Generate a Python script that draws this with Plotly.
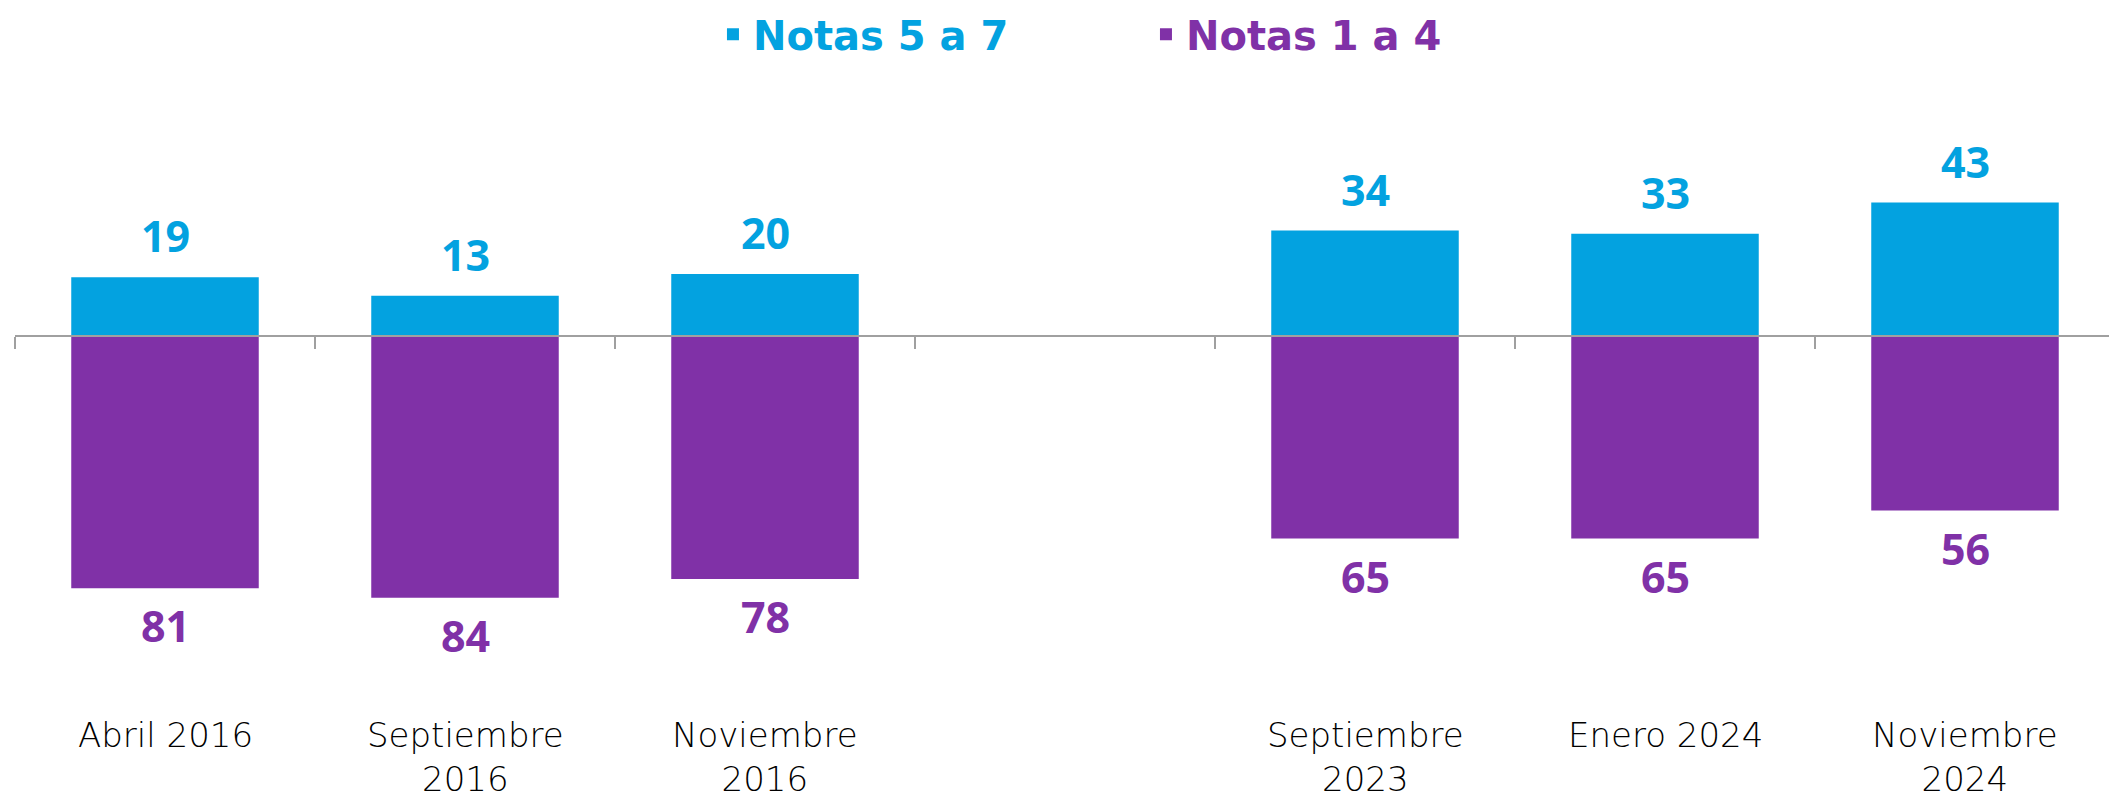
import plotly.graph_objects as go

# ---------------- data ----------------
categorias = ["Abril 2016", "Septiembre 2016", "Noviembre 2016", " ",
              "Septiembre 2023", "Enero 2024", "Noviembre 2024"]
etiquetas = ["Abril 2016", "Septiembre<br>2016", "Noviembre<br>2016", "",
             "Septiembre<br>2023", "Enero 2024", "Noviembre<br>2024"]
notas_5_7 = [19, 13, 20, None, 34, 33, 43]
notas_1_4 = [81, 84, 78, None, 65, 65, 56]

CYAN = "#03A2E0"
PURPLE = "#8031A7"
AXIS_GRAY = "#A0A0A0"

Y_MIN, Y_MAX = -121.7, 88.8
zero_frac = (0 - Y_MIN) / (Y_MAX - Y_MIN)

fig = go.Figure()
fig.add_trace(go.Bar(
    x=categorias, y=notas_5_7,
    name="<span style='color:%s'>Notas 5 a 7</span>" % CYAN,
    marker=dict(color=CYAN, line=dict(width=0)),
    hoverinfo="skip",
))
fig.add_trace(go.Bar(
    x=categorias, y=[-v if v is not None else None for v in notas_1_4],
    name="<span style='color:%s'>Notas 1 a 4</span>" % PURPLE,
    marker=dict(color=PURPLE, line=dict(width=0)),
    hoverinfo="skip",
))

label_font = dict(family="Open Sans", size=43, weight=700)
annotations = []
for c, v in zip(categorias, notas_5_7):
    if v is not None:
        annotations.append(dict(x=c, y=v, xref="x", yref="y", text=str(v), showarrow=False,
                                yanchor="bottom", yshift=10,
                                font=dict(color=CYAN, **label_font)))
for c, v in zip(categorias, notas_1_4):
    if v is not None:
        annotations.append(dict(x=c, y=-v, xref="x", yref="y", text=str(v), showarrow=False,
                                yanchor="top", yshift=-6,
                                font=dict(color=PURPLE, **label_font)))

# category labels under the plot
cat_font = dict(family="DejaVu Sans", size=34, weight=200, color="#000000")
for c, t in zip(categorias, etiquetas):
    if t:
        annotations.append(dict(x=c, y=0, xref="x", yref="paper", text=t, showarrow=False,
                                yanchor="top", yshift=2, font=cat_font))

fig.update_layout(
    width=2117, height=799,
    margin=dict(l=7, r=10, t=52, b=92, autoexpand=False),
    paper_bgcolor="white", plot_bgcolor="white",
    barmode="relative", bargap=0.375,
    showlegend=True,
    legend=dict(orientation="h", xref="container", yref="paper",
                x=0.333, xanchor="left", y=1.089, yanchor="top",
                traceorder="normal", entrywidth=388,
                font=dict(family="DejaVu Sans", size=40, weight=700),
                bgcolor="rgba(0,0,0,0)"),
    xaxis=dict(type="category", categoryorder="array", categoryarray=categorias,
               range=[-0.5, 6.5], anchor="free", position=zero_frac,
               showline=True, linecolor=AXIS_GRAY, linewidth=1.5,
               ticks="outside", tickson="boundaries", ticklen=12,
               tickcolor=AXIS_GRAY, tickwidth=1.5,
               showticklabels=False, showgrid=False, zeroline=False),
    yaxis=dict(range=[Y_MIN, Y_MAX], visible=False, showgrid=False, zeroline=False),
    annotations=annotations,
)

fig.write_html("out.html")
